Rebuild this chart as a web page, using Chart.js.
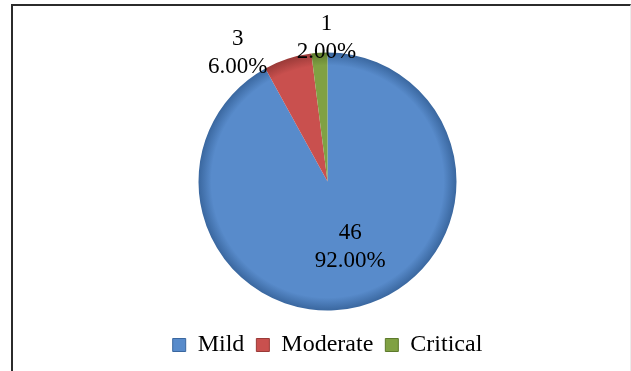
<!DOCTYPE html>
<html>
<head>
<meta charset="utf-8">
<script src="https://cdn.jsdelivr.net/npm/chart.js@4.4.1/dist/chart.umd.min.js"></script>
<style>
  html, body { margin: 0; padding: 0; background: #fff; }
  #wrap { position: relative; width: 631px; height: 371px; overflow: hidden; }
  #frame {
    position: absolute; left: 11px; top: 4px; width: 617px; height: 400px;
    border-left: 2px solid #2b2b2b; border-top: 2px solid #2b2b2b; border-right: 1px solid #ececec;
  }
  #pie { position: absolute; left: 0; top: 0; }
</style>
</head>
<body>
<div id="wrap">
  <div id="frame"></div>
  <canvas id="pie" width="631" height="371"></canvas>
</div>
<script>
// severity groups
const categories = ['Mild', 'Moderate', 'Critical'];
const counts = [46, 3, 1];
const sliceColors = ['#588bcb', '#c9504e', '#80a143'];
const rimColors = ['#3a679f', '#9a3a38', '#5d7a2c'];

// label placement per slice: fraction of radius along the mid angle, then a nudge
const labelRadius = [0.55, 1.0, 1.0];
const labelNudge = [[5, -3], [-50, -6], [7, -15]];

const FONT = "'Liberation Serif', 'Times New Roman', serif";

const bevelFill = (ctx) => {
    const chart = ctx.chart;
    const i = ctx.dataIndex;
    const area = chart.chartArea;
    if (!area || i === undefined) return sliceColors[i || 0];
    const cx = (area.left + area.right) / 2;
    const cy = (area.top + area.bottom) / 2;
    const r = 129;
    const g = chart.ctx.createRadialGradient(cx, cy, 0, cx, cy, r);
    g.addColorStop(0, sliceColors[i]);
    g.addColorStop(0.9, sliceColors[i]);
    g.addColorStop(1, rimColors[i]);
    return g;
};

const sliceLabels = {
    id: 'sliceLabels',
    afterDatasetsDraw(chart) {
        const ctx = chart.ctx;
        const total = counts.reduce((a, b) => a + b, 0);
        const arcs = chart.getDatasetMeta(0).data;
        ctx.save();
        ctx.font = '23px ' + FONT;
        ctx.fillStyle = '#000';
        ctx.textAlign = 'center';
        ctx.textBaseline = 'middle';
        arcs.forEach((arc, i) => {
            const p = arc.getProps(['x', 'y', 'startAngle', 'endAngle', 'outerRadius'], true);
            const mid = (p.startAngle + p.endAngle) / 2;
            const d = p.outerRadius * labelRadius[i];
            const x = p.x + Math.cos(mid) * d + labelNudge[i][0];
            const y = p.y + Math.sin(mid) * d + labelNudge[i][1];
            const pct = (counts[i] / total * 100).toFixed(2) + '%';
            ctx.fillText(String(counts[i]), x, y - 14);
            ctx.fillText(pct, x, y + 14);
        });
        ctx.restore();
    }
};

new Chart(document.getElementById('pie'), {
    type: 'pie',
    data: {
        labels: categories,
        datasets: [{
            data: counts,
            backgroundColor: bevelFill,
            borderWidth: 0,
            radius: 129
        }]
    },
    options: {
        responsive: false,
        animation: false,
        layout: { padding: { top: 42, left: 24, right: 0, bottom: 4 } },
        plugins: {
            tooltip: { enabled: false },
            legend: {
                position: 'bottom',
                labels: {
                    color: '#000',
                    font: { family: FONT, size: 24 },
                    boxWidth: 13,
                    boxHeight: 13,
                    padding: 12,
                    generateLabels(chart) {
                        return categories.map((c, i) => ({
                            text: c,
                            fillStyle: sliceColors[i],
                            strokeStyle: rimColors[i],
                            lineWidth: 1,
                            hidden: false,
                            index: i
                        }));
                    }
                }
            }
        }
    },
    plugins: [sliceLabels]
});
</script>
</body>
</html>
